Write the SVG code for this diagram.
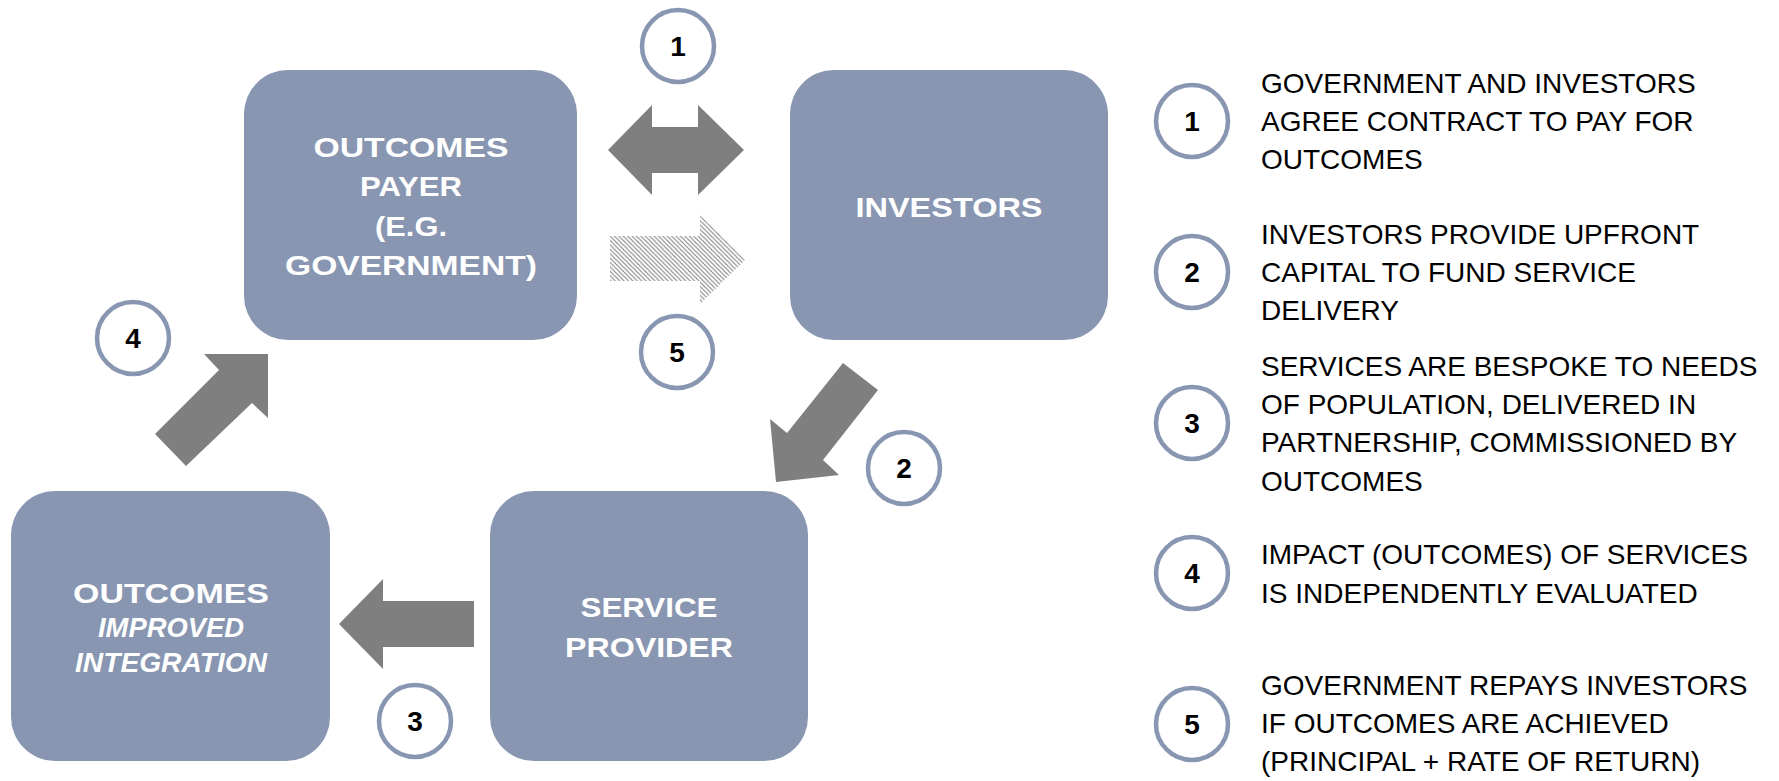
<svg xmlns="http://www.w3.org/2000/svg" width="1779" height="781" viewBox="0 0 1779 781">
  <style>
    .box { fill: #8896b1; }
    .lbl { font-family: "Liberation Sans", Arial, sans-serif; font-weight: bold; font-size: 28px; fill: #ffffff; text-anchor: middle; }
    .lbl-i { font-style: italic; }
    .badge { fill: #ffffff; stroke: #8896b1; stroke-width: 4.5; }
    .num { font-family: "Liberation Sans", Arial, sans-serif; font-weight: bold; font-size: 28px; fill: #000000; text-anchor: middle; }
    .arrow { fill: #7f7f7f; }
    .desc { font-family: "Liberation Sans", Arial, sans-serif; font-size: 28px; fill: #000000; }
  </style>
  <defs>
    <!-- fine diagonal hatch for the repayment arrow -->
    <pattern id="hatch" width="4.4" height="4.4" patternUnits="userSpaceOnUse">
      <path d="M-1,-1 L5.4,5.4 M-1,3.4 L1,5.4 M3.4,-1 L5.4,1" stroke="#7a7a7a" stroke-width="1"/>
    </pattern>
  </defs>

  <rect width="1779" height="781" fill="#ffffff"/>

  <!-- connectors -->
  <g id="connectors">
    <!-- 1: two-way agreement -->
    <polygon class="arrow" points="608,150 652,105 652,127 698,127 698,105 744,150 698,195 698,173 652,173 652,195"/>
    <!-- 5: repayment (hatched) -->
    <polygon fill="url(#hatch)" points="610,236 700,236 700,215 745,260 700,304 700,281 610,281"/>
    <!-- 2: investors to provider -->
    <polygon class="arrow" points="843,363 878,390 823,460 839,475 776,482 770,419 787,433"/>
    <!-- 3: provider to outcomes -->
    <polygon class="arrow" points="474,601 383,601 383,579 339,624 383,669 383,647 474,647"/>
    <!-- 4: outcomes to payer -->
    <polygon class="arrow" points="155,434 219,370 204,354 268,354 268,418 252,403 186,466"/>
  </g>

  <!-- nodes -->
  <g id="node-payer">
    <rect class="box" x="244" y="70" width="333" height="270" rx="44"/>
    <text class="lbl" x="411" y="157" textLength="195" lengthAdjust="spacingAndGlyphs">OUTCOMES</text>
    <text class="lbl" x="411" y="196" textLength="102" lengthAdjust="spacingAndGlyphs">PAYER</text>
    <text class="lbl" x="411" y="236" textLength="72" lengthAdjust="spacingAndGlyphs">(E.G.</text>
    <text class="lbl" x="411" y="275" textLength="252" lengthAdjust="spacingAndGlyphs">GOVERNMENT)</text>
  </g>

  <g id="node-investors">
    <rect class="box" x="790" y="70" width="318" height="270" rx="44"/>
    <text class="lbl" x="949" y="217" textLength="187" lengthAdjust="spacingAndGlyphs">INVESTORS</text>
  </g>

  <g id="node-outcomes">
    <rect class="box" x="11" y="491" width="319" height="270" rx="44"/>
    <text class="lbl" x="171" y="603" textLength="196" lengthAdjust="spacingAndGlyphs">OUTCOMES</text>
    <text class="lbl lbl-i" x="171" y="637" textLength="146" lengthAdjust="spacingAndGlyphs">IMPROVED</text>
    <text class="lbl lbl-i" x="171" y="672" textLength="192" lengthAdjust="spacingAndGlyphs">INTEGRATION</text>
  </g>

  <g id="node-provider">
    <rect class="box" x="490" y="491" width="318" height="270" rx="44"/>
    <text class="lbl" x="649" y="617" textLength="137" lengthAdjust="spacingAndGlyphs">SERVICE</text>
    <text class="lbl" x="649" y="657" textLength="168" lengthAdjust="spacingAndGlyphs">PROVIDER</text>
  </g>

  <!-- step badges on the cycle -->
  <g id="badge-1">
    <circle class="badge" cx="678" cy="46" r="36"/>
    <text class="num" x="678" y="56">1</text>
  </g>
  <g id="badge-5">
    <circle class="badge" cx="677" cy="352" r="36"/>
    <text class="num" x="677" y="362">5</text>
  </g>
  <g id="badge-4">
    <circle class="badge" cx="133" cy="338" r="36"/>
    <text class="num" x="133" y="348">4</text>
  </g>
  <g id="badge-3">
    <circle class="badge" cx="415" cy="721" r="36"/>
    <text class="num" x="415" y="731">3</text>
  </g>
  <g id="badge-2">
    <circle class="badge" cx="904" cy="468" r="36"/>
    <text class="num" x="904" y="478">2</text>
  </g>

  <!-- legend -->
  <g id="legend-1">
    <circle class="badge" cx="1192" cy="121" r="36"/>
    <text class="num" x="1192" y="131">1</text>
    <text class="desc" x="1261" y="93">GOVERNMENT AND INVESTORS</text>
    <text class="desc" x="1261" y="131">AGREE CONTRACT TO PAY FOR</text>
    <text class="desc" x="1261" y="169">OUTCOMES</text>
  </g>
  <g id="legend-2">
    <circle class="badge" cx="1192" cy="272" r="36"/>
    <text class="num" x="1192" y="282">2</text>
    <text class="desc" x="1261" y="244">INVESTORS PROVIDE UPFRONT</text>
    <text class="desc" x="1261" y="282">CAPITAL TO FUND SERVICE</text>
    <text class="desc" x="1261" y="320">DELIVERY</text>
  </g>
  <g id="legend-3">
    <circle class="badge" cx="1192" cy="423" r="36"/>
    <text class="num" x="1192" y="433">3</text>
    <text class="desc" x="1261" y="376">SERVICES ARE BESPOKE TO NEEDS</text>
    <text class="desc" x="1261" y="414">OF POPULATION, DELIVERED IN</text>
    <text class="desc" x="1261" y="452">PARTNERSHIP, COMMISSIONED BY</text>
    <text class="desc" x="1261" y="491">OUTCOMES</text>
  </g>
  <g id="legend-4">
    <circle class="badge" cx="1192" cy="573" r="36"/>
    <text class="num" x="1192" y="583">4</text>
    <text class="desc" x="1261" y="564">IMPACT (OUTCOMES) OF SERVICES</text>
    <text class="desc" x="1261" y="603">IS INDEPENDENTLY EVALUATED</text>
  </g>
  <g id="legend-5">
    <circle class="badge" cx="1192" cy="724" r="36"/>
    <text class="num" x="1192" y="734">5</text>
    <text class="desc" x="1261" y="695">GOVERNMENT REPAYS INVESTORS</text>
    <text class="desc" x="1261" y="733">IF OUTCOMES ARE ACHIEVED</text>
    <text class="desc" x="1261" y="771">(PRINCIPAL + RATE OF RETURN)</text>
  </g>
</svg>
